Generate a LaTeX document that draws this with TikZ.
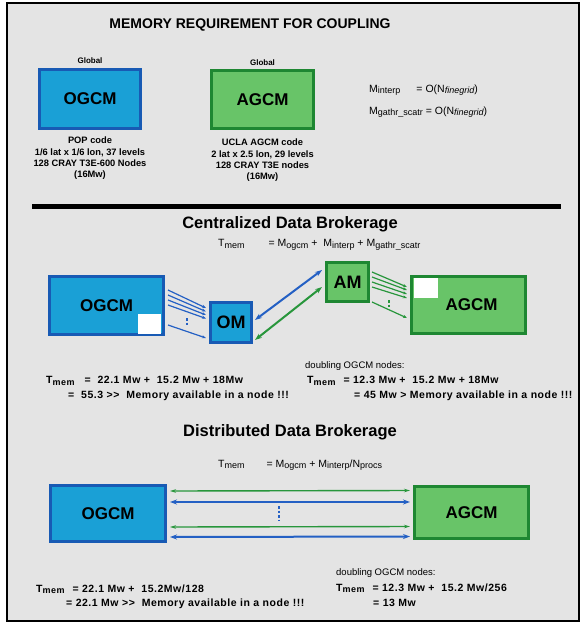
\documentclass[tikz,border=0pt]{standalone}
\usepackage{fontspec}
\setmainfont{Liberation Sans}
\newfontfamily\budgetfont[LetterSpace=5]{Liberation Sans}
\usetikzlibrary{arrows.meta,positioning}
\definecolor{myocean}{RGB}{26,160,214}
\definecolor{myoceanline}{RGB}{24,90,180}
\definecolor{myatmos}{RGB}{104,196,104}
\definecolor{myatmosline}{RGB}{30,135,50}
\definecolor{mybackground}{RGB}{228,228,228}
\definecolor{myarrowblue}{RGB}{36,96,196}
\definecolor{myarrowgreen}{RGB}{40,150,60}
\newcommand{\vsub}[2]{#1\raisebox{-.25ex}{\fontsize{9}{10}\selectfont #2}}
\newcommand{\boxline}{3pt}
\tikzset{
    model/.style={draw, rectangle, line width=\boxline, inner sep=0pt, font=\fontsize{17}{20}\selectfont\bfseries},
    ocean/.style={model, fill=myocean, draw=myoceanline},
    atmos/.style={model, fill=myatmos, draw=myatmosline},
    module/.style={minimum width=41pt, minimum height=40pt, font=\fontsize{18}{20}\selectfont\bfseries},
    hole/.style={fill=white, inner sep=0pt, minimum width=23pt, minimum height=20pt},
    info/.style={align=center, font=\fontsize{9.3}{11.3}\selectfont\bfseries, inner sep=0pt},
    note/.style={anchor=west, inner sep=0pt, font=\fontsize{10.5}{12}\selectfont},
    budget/.style={note, font=\budgetfont\fontsize{10.5}{12}\selectfont\bfseries},
    heading/.style={inner sep=0pt, font=\fontsize{16.5}{18}\selectfont\bfseries},
    feed/.style={-{Stealth[length=4pt,width=3pt]}, line width=1.2pt},
    link/.style={{Stealth[length=7pt,width=5pt]}-{Stealth[length=7pt,width=5pt]}, line width=2pt},
    thinlink/.style={{Stealth[length=6pt,width=3.5pt]}-{Stealth[length=6pt,width=3.5pt]}, line width=1.4pt},
    dots/.style={dash pattern=on 2.5pt off 2pt, line width=1.5pt}
}

\begin{document}
\begin{tikzpicture}[x=1pt, y=-1pt]
    \useasboundingbox (0,0) rectangle (582,625);
    \draw[line width=2.5pt, fill=mybackground] (7,3) rectangle (579,621);

    % requirement
    \node[inner sep=0pt, font=\fontsize{14}{16}\selectfont\bfseries] (title) at (250,25) {MEMORY REQUIREMENT FOR COUPLING};
    \node[ocean, minimum width=101pt, minimum height=59pt] (ogcmA) at (90,99) {OGCM};
    \node[atmos, minimum width=102pt, minimum height=58pt] (agcmA) at (262.5,99.5) {AGCM};
    \node[info, font=\fontsize{8}{9}\selectfont\bfseries, above=4pt of ogcmA] (globalO) {Global};
    \node[info, font=\fontsize{8}{9}\selectfont\bfseries, above=3pt of agcmA] (globalA) {Global};
    \node[info, below=7pt of ogcmA] (popA) {POP code\\1/6 lat x 1/6 lon, 37 levels\\128 CRAY T3E-600 Nodes\\(16Mw)};
    \node[info, below=9pt of agcmA] (uclaA) {UCLA AGCM code\\2 lat x 2.5 lon, 29 levels\\128 CRAY T3E nodes\\(16Mw)};
    \node[note] (interpA) at (369,90) {\vsub{M}{interp}\hspace{16pt}= O(\vsub{N}{\itshape finegrid})};
    \node[note] (gathrA) at (369,112) {\vsub{M}{gathr\_scatr} = O(\vsub{N}{\itshape finegrid})};

    \draw[line width=5pt] (32,206) -- (561,206);

    % centralized
    \node[heading] (centralT) at (290,224) {Centralized Data Brokerage};
    \node[note] (centralF) at (218,245) {\vsub{T}{mem}\hspace{24pt}= \vsub{M}{ogcm} +\ \ \vsub{M}{interp} + \vsub{M}{gathr\_scatr}};
    \node[ocean, minimum width=114pt, minimum height=58pt, text depth=-4pt] (ogcmB) at (106.5,305.5) {OGCM};
    \node[hole, anchor=south east] (holeO) at ([shift={(-4,-2)}]ogcmB.south east) {};
    \node[ocean, module] (om) at (231,322) {OM};
    \node[atmos, module, minimum width=42pt, minimum height=39pt] (am) at (347.5,282) {AM};
    \node[atmos, minimum width=114pt, minimum height=57pt, text depth=-4pt] (agcmB) at (468.5,305) {\hspace{6pt}AGCM};
    \node[hole, anchor=north west, minimum width=24pt] (holeA) at ([shift={(4,3)}]agcmB.north west) {};

    \foreach \a/\b in {-15.5/-14, -10.5/-10.5, -5.5/-7, -0.5/-3.5}
        \draw[feed, myarrowblue] ([shift={(3,\a)}]ogcmB.east) -- ([shift={(-3,\b)}]om.west);
    \draw[feed, myarrowblue] ([shift={(3,19.5)}]ogcmB.east) -- ([shift={(-3,16)}]om.west);
    \draw[dots, myarrowblue] (187,318) -- (187,326);

    \draw[link, myarrowblue] ([shift={(2,-2)}]om.east) -- ([shift={(-3,-12)}]am.west);
    \draw[link, myarrowgreen] ([shift={(2,18)}]om.east) -- ([shift={(-3,5)}]am.west);

    \foreach \a/\b in {-10/-18, -5/-15, 0/-11, 5/-7}
        \draw[feed, myarrowgreen] ([shift={(2,\a)}]am.east) -- ([shift={(-3,\b)}]agcmB.west);
    \draw[feed, myarrowgreen] ([shift={(2,20)}]am.east) -- ([shift={(-3,13)}]agcmB.west);
    \draw[dots, myarrowgreen] (389,300) -- (389,308);

    \node[budget] (costL) at (46,381) {\vsub{T}{mem}\hspace{10pt}=\ \ 22.1 Mw +\ \ 15.2 Mw + 18Mw};
    \node[budget] (costLb) at (68,396) {=\ \ 55.3 >{}>\ \ Memory available in a node !!!};
    \node[note, font=\fontsize{9.5}{11}\selectfont] (doubleB) at (305,366) {doubling OGCM nodes:};
    \node[budget] (costR) at (307,381) {\vsub{T}{mem}\hspace{8pt}= 12.3 Mw +\ \ 15.2 Mw + 18Mw};
    \node[budget] (costRb) at (354,396) {= 45 Mw > Memory available in a node !!!};

    % distributed
    \node[heading] (distT) at (290,432) {Distributed Data Brokerage};
    \node[note] (distF) at (218,465) {\vsub{T}{mem}\hspace{22pt}= \vsub{M}{ogcm} + \vsub{M}{interp}/\vsub{N}{procs}};
    \node[ocean, minimum width=115pt, minimum height=56pt] (ogcmC) at (108,513.5) {OGCM};
    \node[atmos, minimum width=114pt, minimum height=52pt] (agcmC) at (471.5,512.5) {AGCM};

    \foreach \a/\b in {-22.5/-22, 13.5/14}
        \draw[thinlink, myarrowgreen] ([shift={(3,\a)}]ogcmC.east) -- ([shift={(-3,\b)}]agcmC.west);
    \foreach \a/\b in {-11.5/-10.5, 23.5/24}
        \draw[link, myarrowblue] ([shift={(3,\a)}]ogcmC.east) -- ([shift={(-3,\b)}]agcmC.west);
    \draw[dots, myarrowblue] (279,506) -- (279,521);

    \node[budget] (distL) at (36,589) {\vsub{T}{mem}\hspace{8pt}= 22.1 Mw +\ \ 15.2Mw/128};
    \node[budget] (distLb) at (66,604) {= 22.1 Mw >{}> \ Memory available in a node !!!};
    \node[note, font=\fontsize{9.5}{11}\selectfont] (doubleC) at (336,573) {doubling OGCM nodes:};
    \node[budget] (distR) at (336,588) {\vsub{T}{mem}\hspace{8pt}= 12.3 Mw +\ \ 15.2 Mw/256};
    \node[budget] (distRb) at (373,603) {= 13 Mw};
\end{tikzpicture}
\end{document}
